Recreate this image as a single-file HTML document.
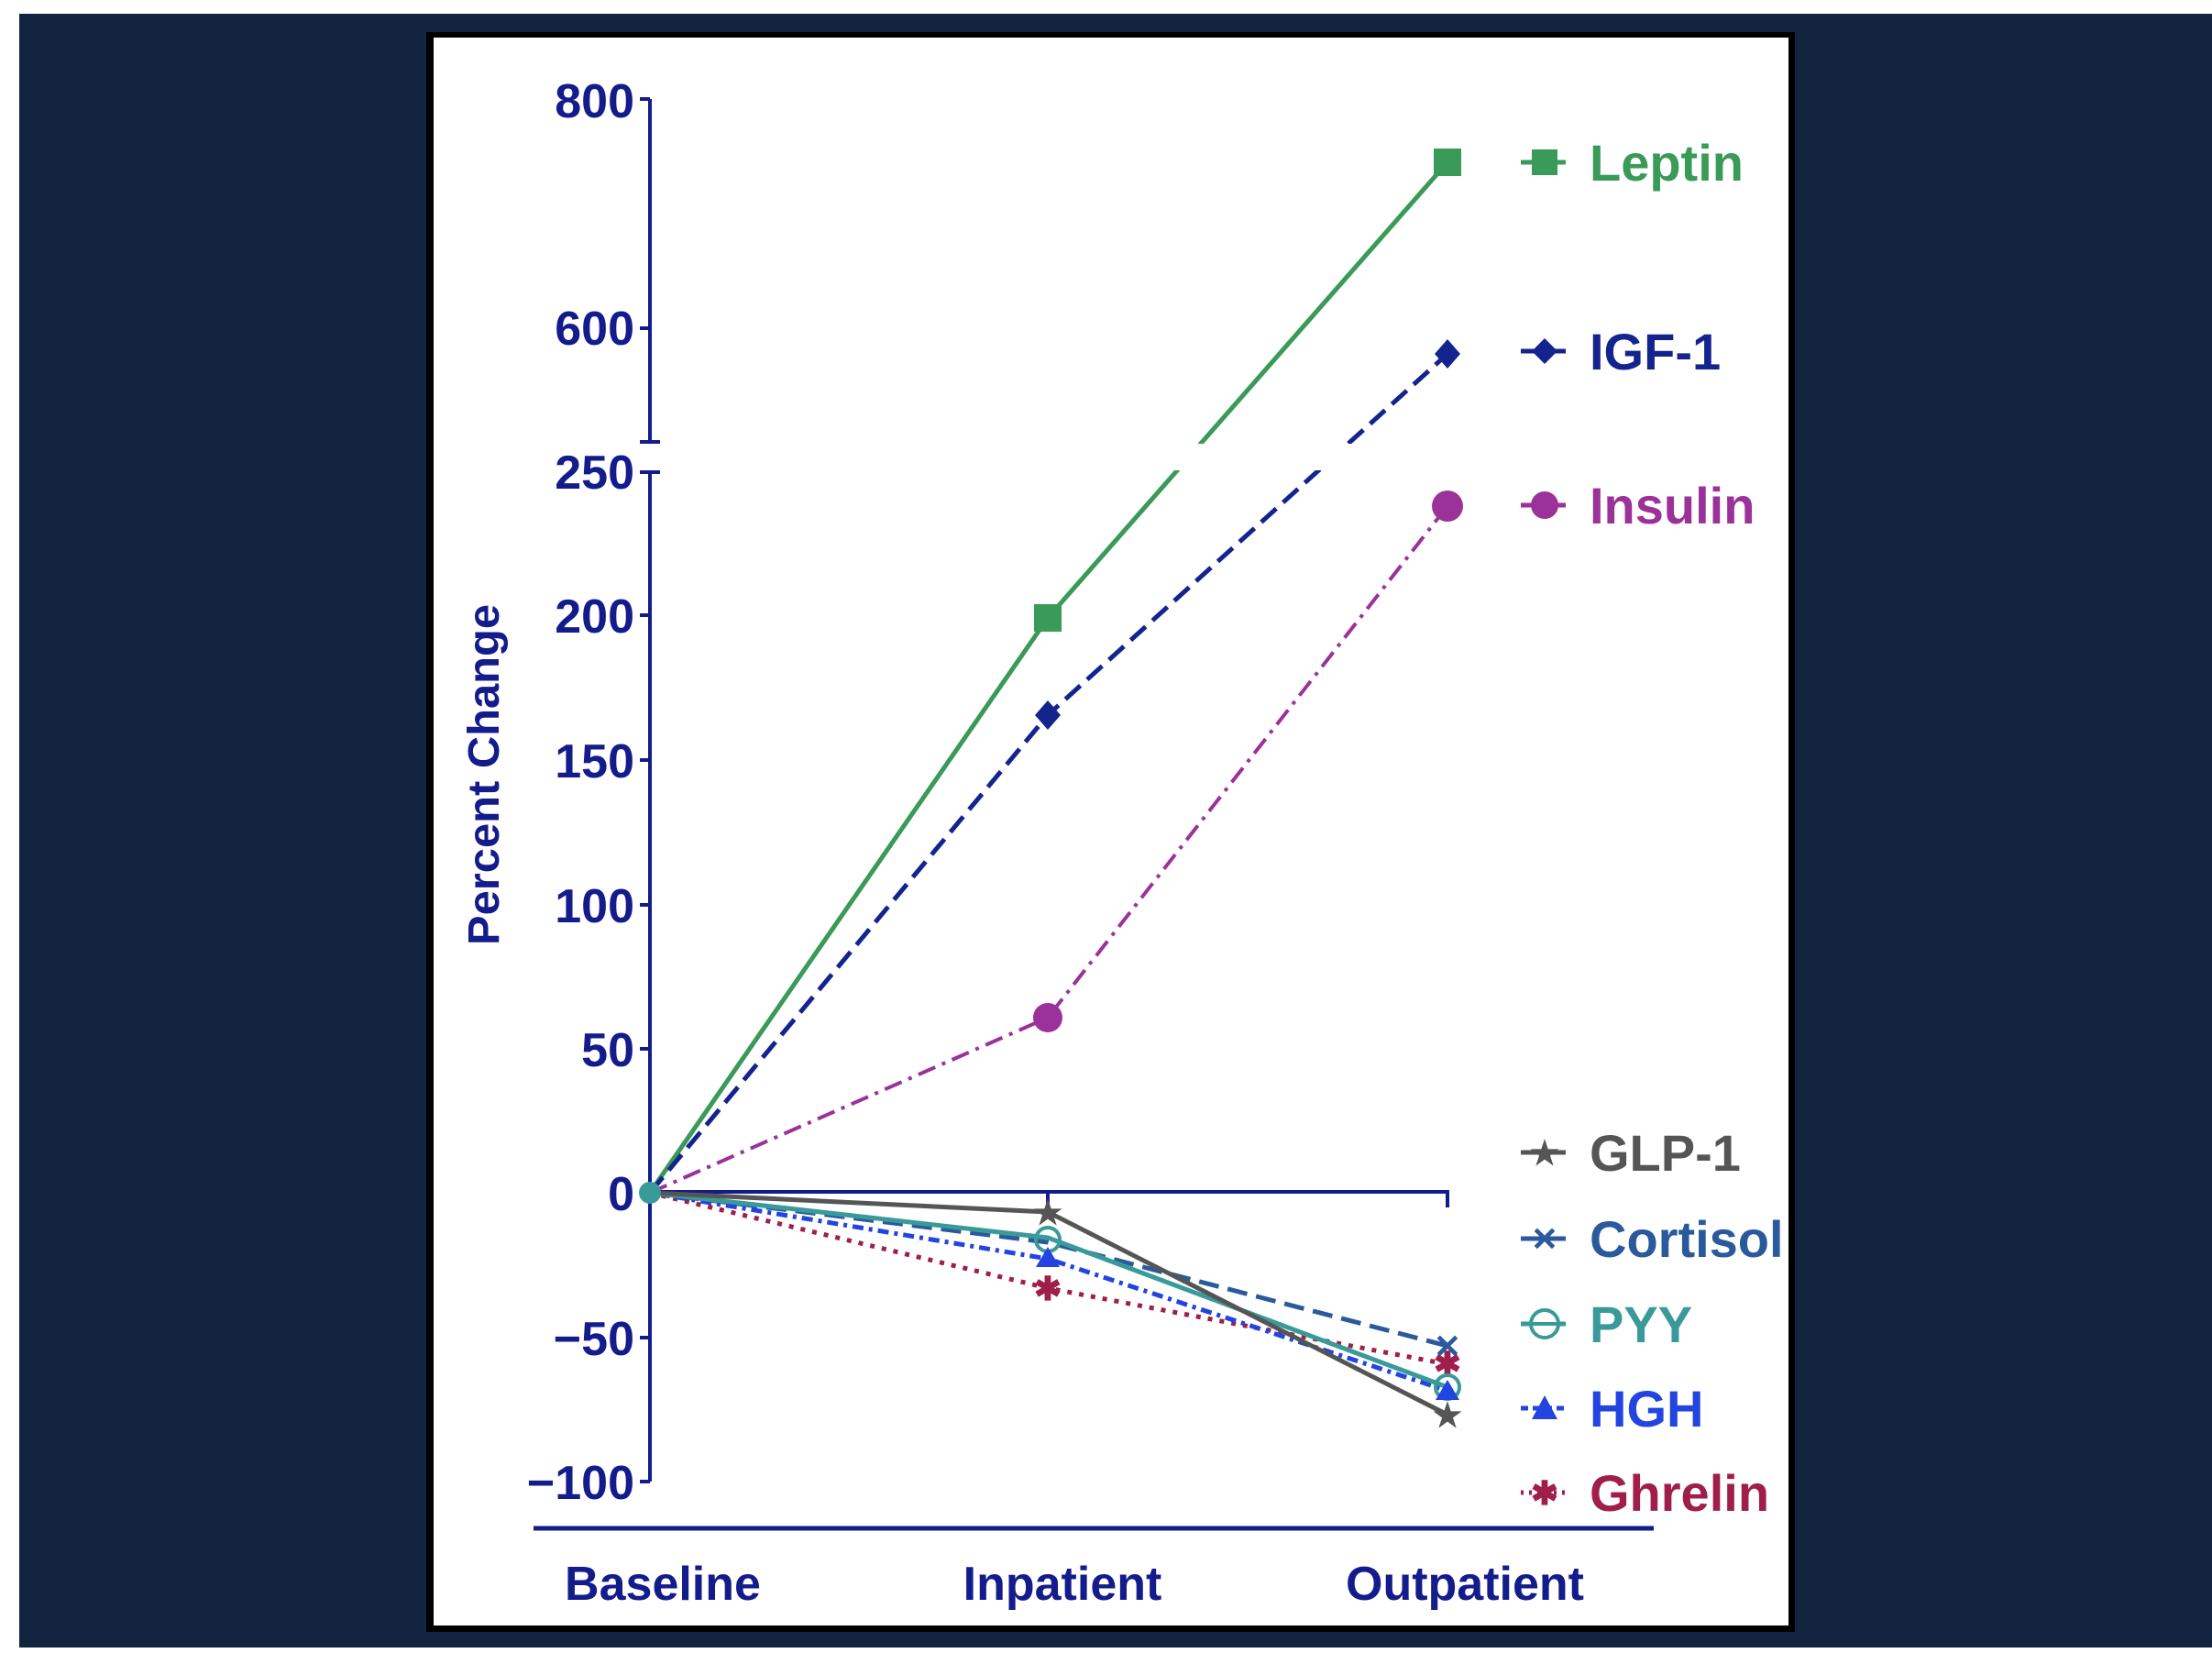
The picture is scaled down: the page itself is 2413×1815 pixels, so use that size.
<!DOCTYPE html>
<html><head><style>
html,body{margin:0;padding:0;background:#fff;}
svg{display:block;}
text{font-family:"Liberation Sans Narrow","Liberation Sans",sans-serif;font-weight:bold;}
</style></head><body>
<svg width="2413" height="1815" viewBox="0 0 2413 1815" xmlns="http://www.w3.org/2000/svg">
<rect x="0" y="0" width="2413" height="1815" fill="#fff"/>
<rect x="21" y="15" width="2392" height="1782" fill="#12243f"/>
<rect x="465" y="35" width="1493" height="1745" fill="#000"/>
<rect x="473" y="41" width="1478" height="1732" fill="#fff"/>

<!-- axes -->
<g stroke="#141c8c" stroke-width="4" fill="none">
<line x1="709" y1="108" x2="709" y2="482"/>
<line x1="698" y1="482" x2="720" y2="482"/>
<line x1="709" y1="515" x2="709" y2="1616"/>
<line x1="698" y1="108" x2="709" y2="108"/>
<line x1="698" y1="358" x2="709" y2="358"/>
<line x1="698" y1="515" x2="720" y2="515"/>
<line x1="698" y1="671" x2="709" y2="671"/>
<line x1="698" y1="829" x2="709" y2="829"/>
<line x1="698" y1="987" x2="709" y2="987"/>
<line x1="698" y1="1144" x2="709" y2="1144"/>
<line x1="698" y1="1301" x2="709" y2="1301"/>
<line x1="698" y1="1459" x2="709" y2="1459"/>
<line x1="698" y1="1616" x2="709" y2="1616"/>
<polyline points="709,1300 1579,1300 1579,1317"/>
<line x1="1143" y1="1300" x2="1143" y2="1313"/>
<line x1="582" y1="1667" x2="1804" y2="1667" stroke-width="5"/>
</g>
<g fill="#141c8c" font-size="52" text-anchor="end">
<text x="692" y="128">800</text>
<text x="692" y="376">600</text>
<text x="692" y="533">250</text>
<text x="692" y="690">200</text>
<text x="692" y="848">150</text>
<text x="692" y="1006">100</text>
<text x="692" y="1163">50</text>
<text x="692" y="1320">0</text>
<text x="692" y="1478">−50</text>
<text x="692" y="1635">−100</text>
</g>
<text transform="translate(544,845) rotate(-90)" text-anchor="middle" font-size="48" fill="#141c8c" font-family="Liberation Sans" textLength="372" lengthAdjust="spacingAndGlyphs">Percent Change</text>
<g fill="#141c8c" font-size="52" text-anchor="middle">
<text x="723" y="1745">Baseline</text>
<text x="1159" y="1745">Inpatient</text>
<text x="1598" y="1745">Outpatient</text>
</g>

<!-- upper series -->
<polyline points="709,1301 1143,674 1579,177" fill="none" stroke="#3a9a58" stroke-width="5"/>
<polyline points="709,1301 1143,780 1579,386" fill="none" stroke="#14248e" stroke-width="5" stroke-dasharray="22,10"/>
<polyline points="709,1301 1143,1110 1579,552" fill="none" stroke="#9a329a" stroke-width="4" stroke-dasharray="20,8,4,8"/>
<rect x="725" y="484" width="900" height="29" fill="#fff"/>
<rect x="1128" y="659" width="30" height="30" fill="#3a9a58"/>
<rect x="1564" y="162" width="30" height="30" fill="#3a9a58"/>
<polygon points="1143,764 1157,780 1143,796 1129,780" fill="#14248e"/>
<polygon points="1579,370 1593,386 1579,402 1565,386" fill="#14248e"/>
<circle cx="1143" cy="1110" r="16" fill="#9a329a"/>
<circle cx="1579" cy="552" r="17" fill="#9a329a"/>

<!-- lower series -->
<polyline points="709,1301 1143,1405 1579,1488" fill="none" stroke="#a01e4a" stroke-width="5" stroke-dasharray="5,8"/>
<polyline points="709,1301 1143,1373 1579,1517" fill="none" stroke="#2244e0" stroke-width="5" stroke-dasharray="12,6,4,6"/>
<polyline points="709,1301 1143,1355 1579,1468" fill="none" stroke="#2a5a9c" stroke-width="5" stroke-dasharray="22,10"/>
<polyline points="709,1301 1143,1350 1579,1513" fill="none" stroke="#3a9a9a" stroke-width="5"/>
<polyline points="709,1301 1143,1322 1579,1543" fill="none" stroke="#555" stroke-width="5"/>
<circle cx="709" cy="1301" r="12" fill="#3a9a9a"/>
<g font-size="36" text-anchor="middle" font-family="DejaVu Sans">
<text x="1143" y="1335" fill="#555">★</text>
<text x="1579" y="1556" fill="#555">★</text>
<text x="1143" y="1418" fill="#a01e4a">✱</text>
<text x="1579" y="1500" fill="#a01e4a">✱</text>
<text x="1579" y="1481" fill="#2a5a9c">✕</text>
</g>
<circle cx="1143" cy="1352" r="13" fill="none" stroke="#3a9a9a" stroke-width="4"/>
<circle cx="1579" cy="1513" r="13" fill="none" stroke="#3a9a9a" stroke-width="4"/>
<polygon points="1143,1360 1156,1382 1130,1382" fill="#2244e0"/>
<polygon points="1579,1505 1592,1527 1566,1527" fill="#2244e0"/>

<!-- legend -->
<g stroke-width="5" fill="none">
<line x1="1659" y1="177" x2="1708" y2="177" stroke="#3a9a58"/>
<line x1="1659" y1="383" x2="1708" y2="383" stroke="#14248e"/>
<line x1="1659" y1="551" x2="1708" y2="551" stroke="#9a329a"/>
<line x1="1659" y1="1257" x2="1708" y2="1257" stroke="#555"/>
<line x1="1659" y1="1351" x2="1708" y2="1351" stroke="#2a5a9c"/>
<line x1="1659" y1="1444" x2="1708" y2="1444" stroke="#3a9a9a"/>
<line x1="1659" y1="1536" x2="1708" y2="1536" stroke="#2244e0" stroke-dasharray="8,5"/>
<line x1="1659" y1="1628" x2="1708" y2="1628" stroke="#a01e4a" stroke-dasharray="3,6"/>
</g>
<rect x="1671" y="163" width="28" height="28" fill="#3a9a58"/>
<polygon points="1685,369 1699,383 1685,397 1671,383" fill="#14248e"/>
<circle cx="1685" cy="551" r="15" fill="#9a329a"/>
<circle cx="1685" cy="1444" r="15" fill="#fff" stroke="#3a9a9a" stroke-width="4"/>
<line x1="1665" y1="1444" x2="1705" y2="1444" stroke="#3a9a9a" stroke-width="4"/>
<polygon points="1685,1522 1699,1548 1671,1548" fill="#2244e0"/>
<g font-size="36" text-anchor="middle" font-family="DejaVu Sans">
<text x="1685" y="1270" fill="#555">★</text>
<text x="1685" y="1364" fill="#2a5a9c">✕</text>
<text x="1685" y="1641" fill="#a01e4a">✱</text>
</g>
<g font-size="56">
<text x="1734" y="197" fill="#3a9a58">Leptin</text>
<text x="1734" y="403" fill="#14248e">IGF-1</text>
<text x="1734" y="571" fill="#9a329a">Insulin</text>
<text x="1734" y="1277" fill="#555">GLP-1</text>
<text x="1734" y="1371" fill="#2a5a9c">Cortisol</text>
<text x="1734" y="1464" fill="#3a9a9a">PYY</text>
<text x="1734" y="1556" fill="#2244e0">HGH</text>
<text x="1734" y="1648" fill="#a01e4a">Ghrelin</text>
</g>
</svg>
</body></html>
